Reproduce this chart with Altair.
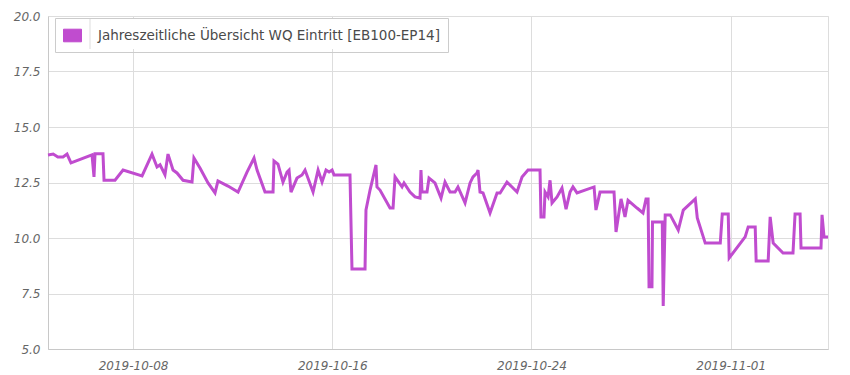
import altair as alt
import pandas as pd

SERIES = "Jahreszeitliche Übersicht WQ Eintritt [EB100-EP14]"

TIMES = [
    "2019-10-04 14:00", "2019-10-04 19:00", "2019-10-04 23:30", "2019-10-05 04:30",
    "2019-10-05 08:20", "2019-10-05 12:10", "2019-10-06 08:25", "2019-10-06 10:20",
    "2019-10-06 11:20", "2019-10-06 19:00", "2019-10-06 20:00", "2019-10-07 06:35",
    "2019-10-07 14:20", "2019-10-08 08:40", "2019-10-08 18:15", "2019-10-08 23:05",
    "2019-10-09 02:00", "2019-10-09 06:45", "2019-10-09 09:40", "2019-10-09 14:30",
    "2019-10-09 18:20", "2019-10-10 00:10", "2019-10-10 08:50", "2019-10-10 10:40",
    "2019-10-10 16:30", "2019-10-11 00:15", "2019-10-11 07:00", "2019-10-11 09:50",
    "2019-10-11 19:30", "2019-10-12 05:10", "2019-10-12 13:50", "2019-10-12 20:35",
    "2019-10-12 23:30", "2019-10-13 07:10", "2019-10-13 14:55", "2019-10-13 15:50",
    "2019-10-13 19:40", "2019-10-14 00:30", "2019-10-14 04:25", "2019-10-14 06:20",
    "2019-10-14 08:15", "2019-10-14 14:00", "2019-10-14 18:50", "2019-10-14 21:45",
    "2019-10-15 05:30", "2019-10-15 10:20", "2019-10-15 14:10", "2019-10-15 18:00",
    "2019-10-15 20:55", "2019-10-15 23:50", "2019-10-16 01:45", "2019-10-16 17:05",
    "2019-10-16 19:00", "2019-10-17 07:35", "2019-10-17 08:30", "2019-10-17 12:25",
    "2019-10-17 18:10", "2019-10-17 19:05", "2019-10-17 22:00", "2019-10-18 07:40",
    "2019-10-18 10:35", "2019-10-18 12:30", "2019-10-18 19:15", "2019-10-18 21:10",
    "2019-10-19 02:55", "2019-10-19 07:45", "2019-10-19 12:35", "2019-10-19 13:30",
    "2019-10-19 14:30", "2019-10-19 19:20", "2019-10-19 21:15", "2019-10-20 03:00",
    "2019-10-20 08:50", "2019-10-20 12:40", "2019-10-20 17:30", "2019-10-20 22:20",
    "2019-10-21 01:10", "2019-10-21 08:00", "2019-10-21 12:50", "2019-10-21 15:40",
    "2019-10-21 19:30", "2019-10-21 20:30", "2019-10-21 22:25", "2019-10-22 01:20",
    "2019-10-22 08:05", "2019-10-22 14:50", "2019-10-22 17:45", "2019-10-23 00:25",
    "2019-10-23 05:15", "2019-10-23 10:05", "2019-10-23 14:55", "2019-10-23 20:40",
    "2019-10-24 08:15", "2019-10-24 09:10", "2019-10-24 12:05", "2019-10-24 13:05",
    "2019-10-24 16:00", "2019-10-24 17:55", "2019-10-24 19:50", "2019-10-25 00:40",
    "2019-10-25 05:25", "2019-10-25 09:20", "2019-10-25 13:10", "2019-10-25 16:00",
    "2019-10-25 19:55", "2019-10-26 12:20", "2019-10-26 14:10", "2019-10-26 18:05",
    "2019-10-27 07:35", "2019-10-27 09:30", "2019-10-27 14:20", "2019-10-27 18:10",
    "2019-10-27 21:05", "2019-10-28 05:45", "2019-10-28 11:30", "2019-10-28 14:25",
    "2019-10-28 16:25", "2019-10-28 17:20", "2019-10-28 20:10", "2019-10-28 20:40",
    "2019-10-29 06:05", "2019-10-29 07:00", "2019-10-29 08:55", "2019-10-29 13:45",
    "2019-10-29 21:30", "2019-10-30 02:20", "2019-10-30 13:55", "2019-10-30 15:50",
    "2019-10-30 23:30", "2019-10-31 14:00", "2019-10-31 15:55", "2019-10-31 21:40",
    "2019-10-31 22:35", "2019-11-01 14:00", "2019-11-01 16:55", "2019-11-01 23:40",
    "2019-11-02 00:35", "2019-11-02 12:10", "2019-11-02 14:05", "2019-11-02 17:00",
    "2019-11-03 02:30", "2019-11-03 12:05", "2019-11-03 14:05", "2019-11-03 18:55",
    "2019-11-03 19:50", "2019-11-04 15:05", "2019-11-04 16:05", "2019-11-04 18:00",
    "2019-11-04 21:50",
]

VALUES = [
    13.74, 13.78, 13.65, 13.65,
    13.78, 13.38, 13.74, 12.75,
    13.80, 13.80, 12.60, 12.60,
    13.06, 12.80, 13.78, 13.20,
    13.30, 12.85, 13.78, 13.06,
    12.93, 12.60, 12.52, 13.60,
    13.15, 12.48, 12.03, 12.57,
    12.34, 12.07, 12.97, 13.60,
    13.06, 12.07, 12.07, 13.47,
    13.33, 12.52, 12.97, 13.06,
    12.07, 12.70, 12.84, 13.06,
    12.07, 13.06, 12.52, 13.06,
    12.97, 13.06, 12.84, 12.84,
    8.60, 8.60, 11.26, 12.16,
    13.29, 12.30, 12.16, 11.35,
    11.35, 12.75, 12.30, 12.48,
    12.07, 11.85, 11.80, 13.06,
    12.07, 12.07, 12.70, 12.48,
    11.80, 12.52, 12.07, 12.07,
    12.30, 11.58, 12.48, 12.75,
    12.93, 13.06, 12.07, 12.03,
    11.13, 12.03, 12.03, 12.52,
    12.30, 12.07, 12.75, 13.06,
    13.06, 10.95, 10.95, 12.07,
    11.85, 12.60, 11.58, 11.85,
    12.25, 11.30, 12.07, 12.30,
    12.03, 12.30, 11.26, 12.07,
    12.07, 10.27, 11.76, 10.95,
    11.70, 11.35, 11.13, 11.76,
    11.76, 7.80, 7.80, 10.72,
    10.72, 6.94, 11.04, 11.04,
    10.36, 11.26, 11.76, 10.90,
    9.77, 9.77, 11.08, 11.08,
    9.10, 10.05, 10.50, 10.50,
    8.96, 8.96, 10.95, 9.77,
    9.32, 9.32, 11.08, 11.08,
    9.55, 9.55, 11.04, 10.05,
    10.05,
]

Y_TICKS = [5.0, 7.5, 10.0, 12.5, 15.0, 17.5, 20.0]
X_TICKS = ["2019-10-08", "2019-10-16", "2019-10-24", "2019-11-01"]

LINE_COLOR = "#c04ccf"
GRID = "#dddddd"
FONT = "DejaVu Sans"

df = pd.DataFrame({"time": pd.to_datetime(TIMES), "value": VALUES, "series": SERIES})

x_tick_values = []
for s in X_TICKS:
    yy, mm, dd = (int(p) for p in s.split("-"))
    x_tick_values.append(alt.DateTime(year=yy, month=mm, date=dd))

line = alt.Chart(df).mark_line(strokeWidth=3, interpolate="linear").encode(
    x=alt.X(
        "time:T",
        title=None,
        scale=alt.Scale(nice=False),
        axis=alt.Axis(
            values=x_tick_values, format="%Y-%m-%d", ticks=False, labelPadding=11,
            labelFontStyle="italic", labelFont=FONT, labelFontSize=12, labelColor="#666666",
            gridColor=GRID, domainColor="#c8c8c8", labelOverlap=False,
        ),
    ),
    y=alt.Y(
        "value:Q",
        title=None,
        scale=alt.Scale(domain=[Y_TICKS[0], Y_TICKS[-1]], nice=False, zero=False),
        axis=alt.Axis(
            values=Y_TICKS, format=".1f", ticks=False, labelPadding=8,
            labelFontStyle="italic", labelFont=FONT, labelFontSize=12, labelColor="#666666",
            gridColor=GRID, domainColor="#c8c8c8", minExtent=40, maxExtent=40,
        ),
    ),
    color=alt.Color(
        "series:N",
        scale=alt.Scale(domain=[SERIES], range=[LINE_COLOR]),
        legend=alt.Legend(
            title=None, orient="none", legendX=7, legendY=2,
            fillColor="transparent", strokeColor="#cccccc", padding=8,
            symbolType="M-1,-0.7H1V0.7H-1Z", symbolSize=324,
            symbolFillColor=LINE_COLOR, symbolStrokeColor="#d890e0", symbolStrokeWidth=1,
            labelFont=FONT, labelFontSize=13.5, labelColor="#4a4a4a", labelOffset=16,
            labelLimit=500, cornerRadius=0,
        ),
    ),
)

one = pd.DataFrame({"k": [0]})
legend_bg = alt.Chart(one).mark_rect(color="white").encode(
    x=alt.value(7), x2=alt.value(399), y=alt.value(2), y2=alt.value(33)
)
legend_sep = alt.Chart(one).mark_rule(color="#dddddd", strokeWidth=1).encode(
    x=alt.value(42), y=alt.value(2), y2=alt.value(33)
)

chart = alt.layer(legend_bg, legend_sep, line).properties(
    width=780,
    height=333,
    autosize=alt.AutoSizeParams(type="none"),
    padding={"left": 40, "top": 8, "right": 14, "bottom": 28},
).configure_view(stroke=GRID).configure(background="white")

chart.save("out.html", embed_options={"renderer": "svg", "actions": False})
